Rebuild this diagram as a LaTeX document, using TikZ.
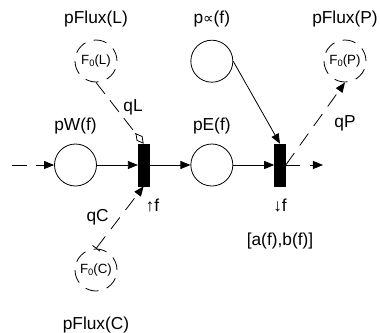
\documentclass[tikz,border=0pt]{standalone}
\usepackage{fontspec}
\setmainfont{Liberation Sans}
\newfontfamily\dvfont{DejaVu Sans}
\usepackage{tikz}
\usetikzlibrary{arrows.meta,positioning,calc}
\newcommand{\Fzero}{F\raisebox{-0.25ex}{\fontsize{7}{7}\selectfont 0}}
\tikzset{
  placebox/.style={
    draw,
    circle,
    line width=0.6pt,
    minimum size=31.5pt,
    inner sep=0pt
  },
  fluxbox/.style={placebox, dash pattern=on 10pt off 6.5pt, font=\fontsize{10}{12}\selectfont},
  transbox/.style={draw, fill=black, minimum width=8.25pt, minimum height=31.5pt, inner sep=0pt},
  namebox/.style={inner sep=0pt},
  flow/.style={-{Triangle[length=7.5pt,width=6pt]}, line width=0.6pt},
  dflow/.style={flow, dash pattern=on 11pt off 7pt},
  readflow/.style={line width=0.6pt, dash pattern=on 11pt off 6pt, shorten >=10pt},
  readtip/.style={-{Diamond[open,length=10pt,width=5.5pt]}, line width=0.6pt, solid},
  barflow/.style={{Bar[width=7pt]}-{Triangle[length=7.5pt,width=6pt]}, line width=0.6pt, dash pattern=on 11pt off 7pt}
}
\begin{document}
\begin{tikzpicture}[
  x=0.75pt, y=-0.75pt,
  node distance=30.75pt and 30.75pt,
  every node/.style={font=\fontsize{13}{15}\selectfont}
]
\useasboundingbox (0,0) rectangle (380,333);
\coordinate (inpt) at (12,165);
\node[placebox] (pW) at (75.5,165) {};
\node[transbox, right=of pW] (t1) {};
\node[placebox, right=of t1] (pE) {};
\node[transbox, right=of pE] (t2) {};
\coordinate (outpt) at (323,165);
\node[placebox, above=45.75pt of pE] (pinf) {};
\node[fluxbox] (pFluxL) at (96,61) {\Fzero(L)};
\node[fluxbox] (pFluxC) at (96,270) {\Fzero(C)};
\node[fluxbox] (pFluxP) at (345,61) {\Fzero(P)};

\node[namebox, above=6.75pt of pW] (pWname) {pW(f)};
\node[namebox, above=6.75pt of pE] (pEname) {pE(f)};
\node[namebox, above=9pt of pFluxL] (pFluxLname) {pFlux(L)};
\node[namebox, above=9pt of pinf] (pinfname) {p{\dvfont\fontsize{11}{13}\selectfont ∝}(f)};
\node[namebox, above=9pt of pFluxP] (pFluxPname) {pFlux(P)};
\node[namebox, below=19pt of pFluxC] (pFluxCname) {pFlux(C)};
\node[namebox, below right=9pt and -3pt of t1.south east] (upname) {↑f};
\node[namebox, below=9.5pt of t2] (downname) {↓f};
\node[namebox, below=15pt of downname] (intname) {[a(f),b(f)]};

\draw[dflow] (inpt) -- (pW);
\draw[flow] (pW) -- (t1);
\draw[flow] (t1) -- (pE);
\draw[flow] (pE) -- (t2);
\draw[dflow] (t2) -- (outpt);
\draw[readflow] (pFluxL.south) -- (t1.north) node[pos=0.4, right=6pt, namebox] (qL) {qL};
\draw[readtip] ($(t1.north)!10pt!(pFluxL.south)$) -- (t1.north);
\draw[barflow] (pFluxC.north) -- (t1.south) node[pos=0.5, left=8pt, namebox] (qC) {qC};
\draw[flow] (pinf.east) -- (t2.north);
\draw[dflow] (t2.east) -- (pFluxP.south) node[pos=0.5, right=14pt, namebox] (qP) {qP};
\end{tikzpicture}
\end{document}
